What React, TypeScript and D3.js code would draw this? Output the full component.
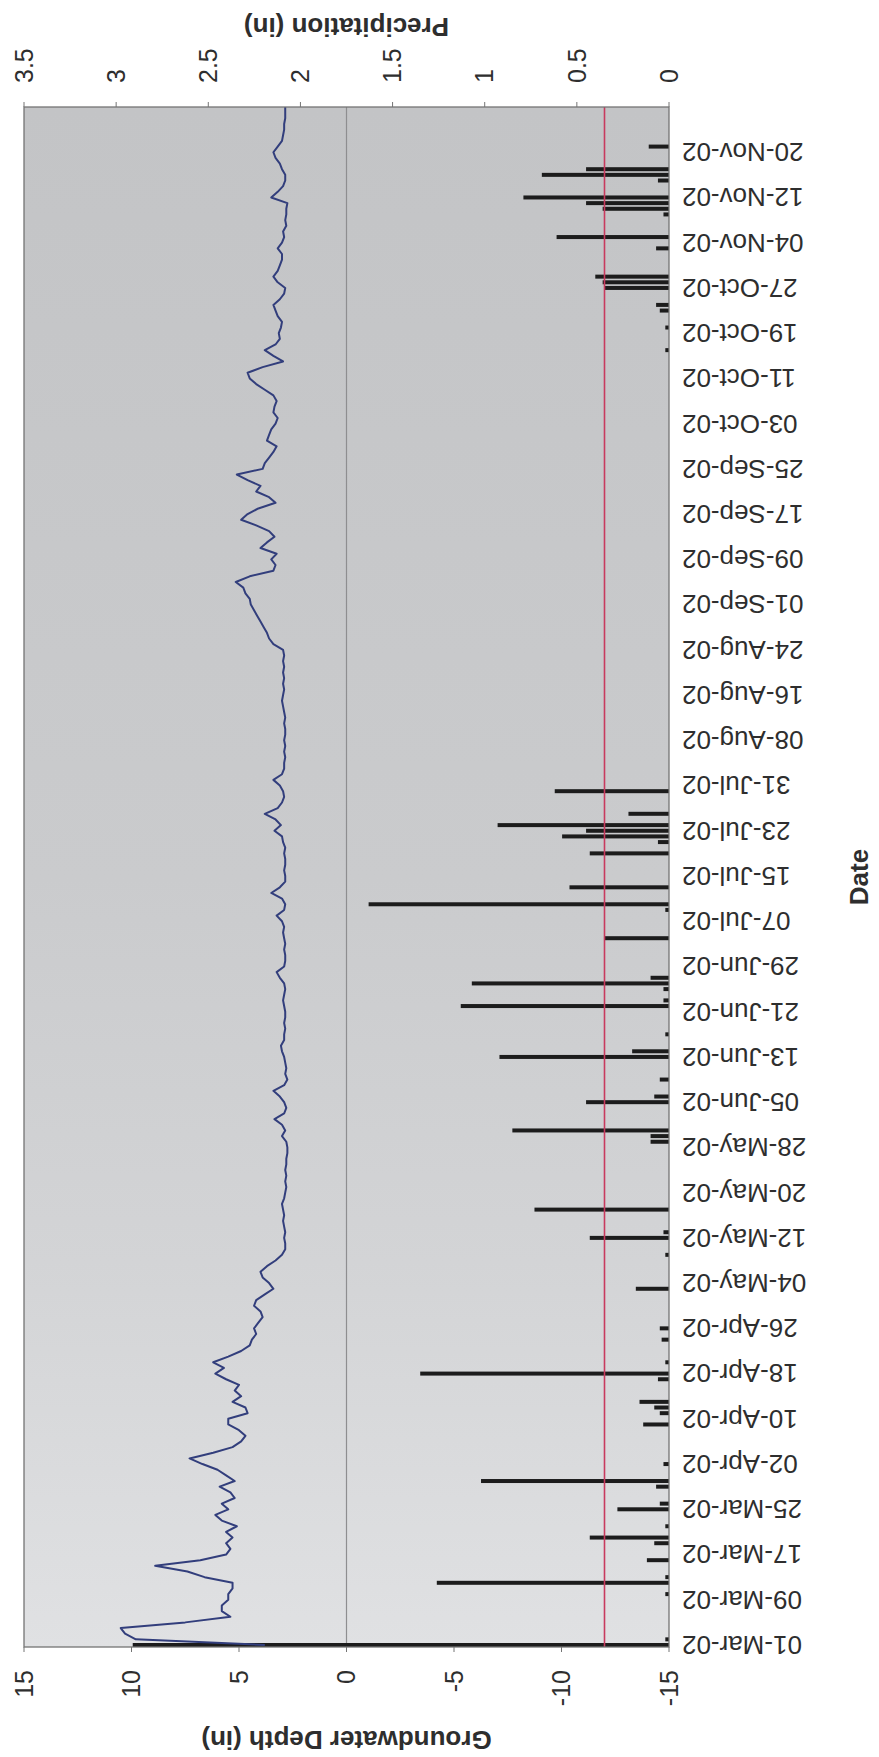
import * as d3 from 'd3';

// groundwater depth (in), one reading per day starting 01-Mar-02
const gwStart = '2002-03-01';
const gwMarch = [3.8, 9.8, 10.3, 10.5, 7.5, 5.4, 5.8, 5.8, 5.5, 5.5, 5.3, 5.3, 6.6, 7.4, 8.9, 6.8, 5.6, 5.4, 5.6, 5.3, 5.6, 5.1, 5.8, 6.1, 5.5, 5.8, 5.2, 5.4, 5.9, 5.2, 5.6];
const gwApril = [6.0, 6.7, 7.3, 6.2, 5.3, 4.9, 4.7, 5.0, 5.5, 5.5, 4.6, 4.7, 5.3, 4.9, 5.2, 5.0, 5.6, 6.1, 5.7, 6.2, 5.5, 4.9, 4.5, 4.4, 4.2, 4.3, 4.1, 3.9, 4.0, 4.3];
const gwMay = [4.2, 3.8, 3.4, 3.6, 3.9, 4.0, 3.7, 3.3, 3.0, 2.85, 2.85, 2.9, 2.85, 2.9, 2.95, 2.9, 2.95, 3.0, 2.9, 2.85, 2.8, 2.85, 2.8, 2.85, 2.8, 2.8, 2.75, 2.75, 2.8, 3.0, 2.85];
const gwJune = [3.0, 3.35, 2.9, 2.8, 2.9, 3.1, 3.4, 2.9, 2.75, 2.85, 2.8, 2.85, 2.9, 3.0, 3.05, 2.9, 2.9, 2.85, 2.9, 2.85, 2.85, 2.9, 2.95, 2.9, 2.85, 2.9, 3.1, 3.25, 2.9, 2.85];
const gwJuly = [2.85, 2.9, 2.85, 2.9, 2.95, 2.9, 3.0, 3.25, 2.9, 2.85, 3.0, 3.5, 3.1, 2.85, 2.85, 2.9, 2.85, 2.85, 2.9, 2.85, 2.95, 3.0, 3.35, 3.05, 3.3, 3.8, 3.2, 3.0, 2.9, 2.95, 3.1];
const gwAugust = [3.4, 3.0, 2.9, 2.9, 2.85, 2.9, 2.85, 2.9, 2.85, 2.85, 2.9, 2.85, 2.9, 2.95, 3.0, 2.95, 2.9, 2.95, 2.9, 2.95, 2.9, 2.95, 2.9, 2.95, 3.4, 3.6, 3.7, 3.85, 4.0, 4.15, 4.3];
const gwSeptember = [4.45, 4.5, 4.7, 4.8, 5.15, 4.5, 3.4, 3.3, 3.5, 3.25, 4.0, 3.7, 3.35, 3.6, 4.2, 4.9, 4.6, 4.1, 3.3, 3.6, 4.2, 4.0, 4.6, 5.1, 3.9, 3.8, 3.6, 3.4, 3.25, 3.7];
const gwOctober = [3.6, 3.5, 3.3, 3.2, 3.4, 3.35, 3.25, 3.4, 3.8, 4.2, 4.5, 4.6, 3.9, 2.95, 3.4, 3.8, 3.3, 3.1, 3.15, 3.05, 3.0, 3.2, 3.3, 3.4, 3.1, 2.9, 2.85, 3.2, 3.4, 3.2, 3.1];
const gwNovember = [3.0, 3.0, 3.2, 3.0, 2.9, 2.95, 2.8, 2.85, 2.8, 2.8, 2.75, 3.5, 3.2, 2.95, 2.85, 2.85, 3.0, 3.1, 3.3, 3.4, 3.2, 3.0, 2.95, 2.9, 2.9, 2.85, 2.85, 2.85];

// daily precipitation (in), only the days with rain
const rainDates = [
  '2002-03-01', '2002-03-02', '2002-03-10', '2002-03-12', '2002-03-13', '2002-03-16', '2002-03-19', '2002-03-20',
  '2002-03-22', '2002-03-25', '2002-03-26', '2002-03-29', '2002-03-30', '2002-04-02', '2002-04-09', '2002-04-11',
  '2002-04-12', '2002-04-13', '2002-04-17', '2002-04-18', '2002-04-20', '2002-04-24', '2002-04-26', '2002-05-03',
  '2002-05-09', '2002-05-12', '2002-05-13', '2002-05-17', '2002-05-29', '2002-05-30', '2002-05-31', '2002-06-05',
  '2002-06-06', '2002-06-09', '2002-06-13', '2002-06-14', '2002-06-17', '2002-06-22', '2002-06-23', '2002-06-25',
  '2002-06-26', '2002-06-27', '2002-07-04', '2002-07-09', '2002-07-10', '2002-07-13', '2002-07-19', '2002-07-21',
  '2002-07-22', '2002-07-23', '2002-07-24', '2002-07-26', '2002-07-30', '2002-10-16', '2002-10-20', '2002-10-23',
  '2002-10-24', '2002-10-27', '2002-10-28', '2002-10-29', '2002-11-03', '2002-11-05', '2002-11-09', '2002-11-10',
  '2002-11-11', '2002-11-12', '2002-11-15', '2002-11-16', '2002-11-17', '2002-11-21',
];
const rainInches = [
  2.91, 0.02, 0.02, 1.26, 0.02, 0.12, 0.08, 0.43,
  0.02, 0.28, 0.05, 0.07, 1.02, 0.03, 0.14, 0.05,
  0.08, 0.16, 0.06, 1.35, 0.02, 0.04, 0.05, 0.18,
  0.02, 0.43, 0.03, 0.73, 0.1, 0.1, 0.85, 0.45,
  0.08, 0.05, 0.92, 0.2, 0.02, 1.13, 0.03, 0.03,
  1.07, 0.1, 0.35, 0.02, 1.63, 0.54, 0.43, 0.06,
  0.58, 0.45, 0.93, 0.22, 0.62, 0.02, 0.02, 0.05,
  0.07, 0.35, 0.36, 0.4, 0.07, 0.61, 0.03, 0.36,
  0.45, 0.79, 0.06, 0.69, 0.45, 0.11,
];

const thresholdDepth = -12;

const dateTickLabels = [
  '01-Mar-02', '09-Mar-02', '17-Mar-02', '25-Mar-02', '02-Apr-02', '10-Apr-02', '18-Apr-02', '26-Apr-02',
  '04-May-02', '12-May-02', '20-May-02', '28-May-02', '05-Jun-02', '13-Jun-02', '21-Jun-02', '29-Jun-02',
  '07-Jul-02', '15-Jul-02', '23-Jul-02', '31-Jul-02', '08-Aug-02', '16-Aug-02', '24-Aug-02', '01-Sep-02',
  '09-Sep-02', '17-Sep-02', '25-Sep-02', '03-Oct-02', '11-Oct-02', '19-Oct-02', '27-Oct-02', '04-Nov-02',
  '12-Nov-02', '20-Nov-02',
];
const depthTicks = [-15, -10, -5, 0, 5, 10, 15];
const rainTicks = [0, 0.5, 1, 1.5, 2, 2.5, 3, 3.5];

const FONT = "'Liberation Sans', Arial, Helvetica, sans-serif";

export default function App() {
  // the chart is drawn lying on its side: built upright, then turned a quarter to the left
  const pageW = 879;
  const pageH = 1757;
  const left = 110;
  const right = 1650;
  const top = 24;
  const bottom = 669;

  const parseIso = d3.utcParse('%Y-%m-%d');
  const parseTick = d3.utcParse('%d-%b-%y');

  const start = parseIso(gwStart) as Date;
  const x = d3
    .scaleUtc()
    .domain([start, d3.utcDay.offset(start, 272)])
    .range([112, right]);
  const yDepth = d3.scaleLinear().domain([-15, 15]).range([bottom, top]);
  const yRain = d3.scaleLinear().domain([0, 3.5]).range([bottom, top]);

  const depth = [
    ...gwMarch, ...gwApril, ...gwMay, ...gwJune, ...gwJuly,
    ...gwAugust, ...gwSeptember, ...gwOctober, ...gwNovember,
  ].map((v, i) => ({ date: d3.utcDay.offset(start, i), v }));

  const rain = rainDates.map((d, i) => ({ date: parseIso(d) as Date, v: rainInches[i] }));

  const line = d3
    .line<{ date: Date; v: number }>()
    .x((d) => x(d.date))
    .y((d) => yDepth(d.v));

  const barW = 4;
  const ticksDates = dateTickLabels.map((t) => ({ label: t, date: parseTick(t) as Date }));
  const ink = '#2e2e2e';

  return (
    <svg
      width={pageW}
      height={pageH}
      style={{ position: 'absolute', left: 0, top: 0, background: '#fff' }}
      fontFamily={FONT}
    >
      <defs>
        <linearGradient id="plotBg" gradientUnits="userSpaceOnUse" x1={left} y1={0} x2={right} y2={0}>
          <stop offset="0" stopColor="#e0e1e3" />
          <stop offset="0.25" stopColor="#d3d4d6" />
          <stop offset="0.5" stopColor="#cacbcd" />
          <stop offset="1" stopColor="#c3c4c6" />
        </linearGradient>
      </defs>
      <g transform={`translate(0,${pageH}) rotate(-90)`}>
        <rect x={left} y={top} width={right - left} height={bottom - top} fill="url(#plotBg)" />

        {/* zero line of the depth axis */}
        <line x1={left} x2={right} y1={yDepth(0)} y2={yDepth(0)} stroke="#8e8e90" strokeWidth={1.2} />

        {/* precipitation bars */}
        {rain.map((d, i) => (
          <rect
            key={i}
            x={x(d.date) - barW / 2}
            y={yRain(d.v)}
            width={barW}
            height={yRain(0) - yRain(d.v)}
            fill="#1c1c1c"
          />
        ))}

        {/* threshold */}
        <line
          x1={left}
          x2={right}
          y1={yDepth(thresholdDepth)}
          y2={yDepth(thresholdDepth)}
          stroke="#c83a5e"
          strokeWidth={1.6}
        />

        <path d={line(depth) ?? ''} fill="none" stroke="#323e7c" strokeWidth={2} strokeLinejoin="round" />

        <rect x={left} y={top} width={right - left} height={bottom - top} fill="none" stroke="#747474" strokeWidth={1.3} />

        {/* depth axis (left) */}
        {depthTicks.map((t) => (
          <g key={t}>
            <line x1={left - 5} x2={left} y1={yDepth(t)} y2={yDepth(t)} stroke="#747474" />
            <text x={left - 23} y={yDepth(t)} dy="0.35em" textAnchor="end" fontSize={25} fill={ink}>
              {t}
            </text>
          </g>
        ))}

        {/* precipitation axis (right) */}
        {rainTicks.map((t) => (
          <g key={t}>
            <line x1={right} x2={right + 5} y1={yRain(t)} y2={yRain(t)} stroke="#747474" />
            <text x={right + 24} y={yRain(t)} dy="0.35em" textAnchor="start" fontSize={25} fill={ink}>
              {t}
            </text>
          </g>
        ))}

        {/* date axis */}
        {ticksDates.map((t) => (
          <text
            key={t.label}
            transform={`translate(${x(t.date)},${bottom + 13}) rotate(-90)`}
            dy="0.35em"
            textAnchor="end"
            fontSize={26}
            fill={ink}
          >
            {t.label}
          </text>
        ))}

        <text
          transform={`translate(17,${(top + bottom) / 2}) rotate(-90)`}
          dy="0.35em"
          textAnchor="middle"
          fontSize={26}
          fontWeight="bold"
          fill={ink}
        >
          Groundwater Depth (in)
        </text>
        <text
          transform={`translate(1730,${(top + bottom) / 2}) rotate(-90)`}
          dy="0.35em"
          textAnchor="middle"
          fontSize={26}
          fontWeight="bold"
          fill={ink}
        >
          Precipitation (in)
        </text>
        <text
          x={(left + right) / 2}
          y={859}
          dy="0.35em"
          textAnchor="middle"
          fontSize={26}
          fontWeight="bold"
          fill={ink}
        >
          Date
        </text>
      </g>
    </svg>
  );
}
